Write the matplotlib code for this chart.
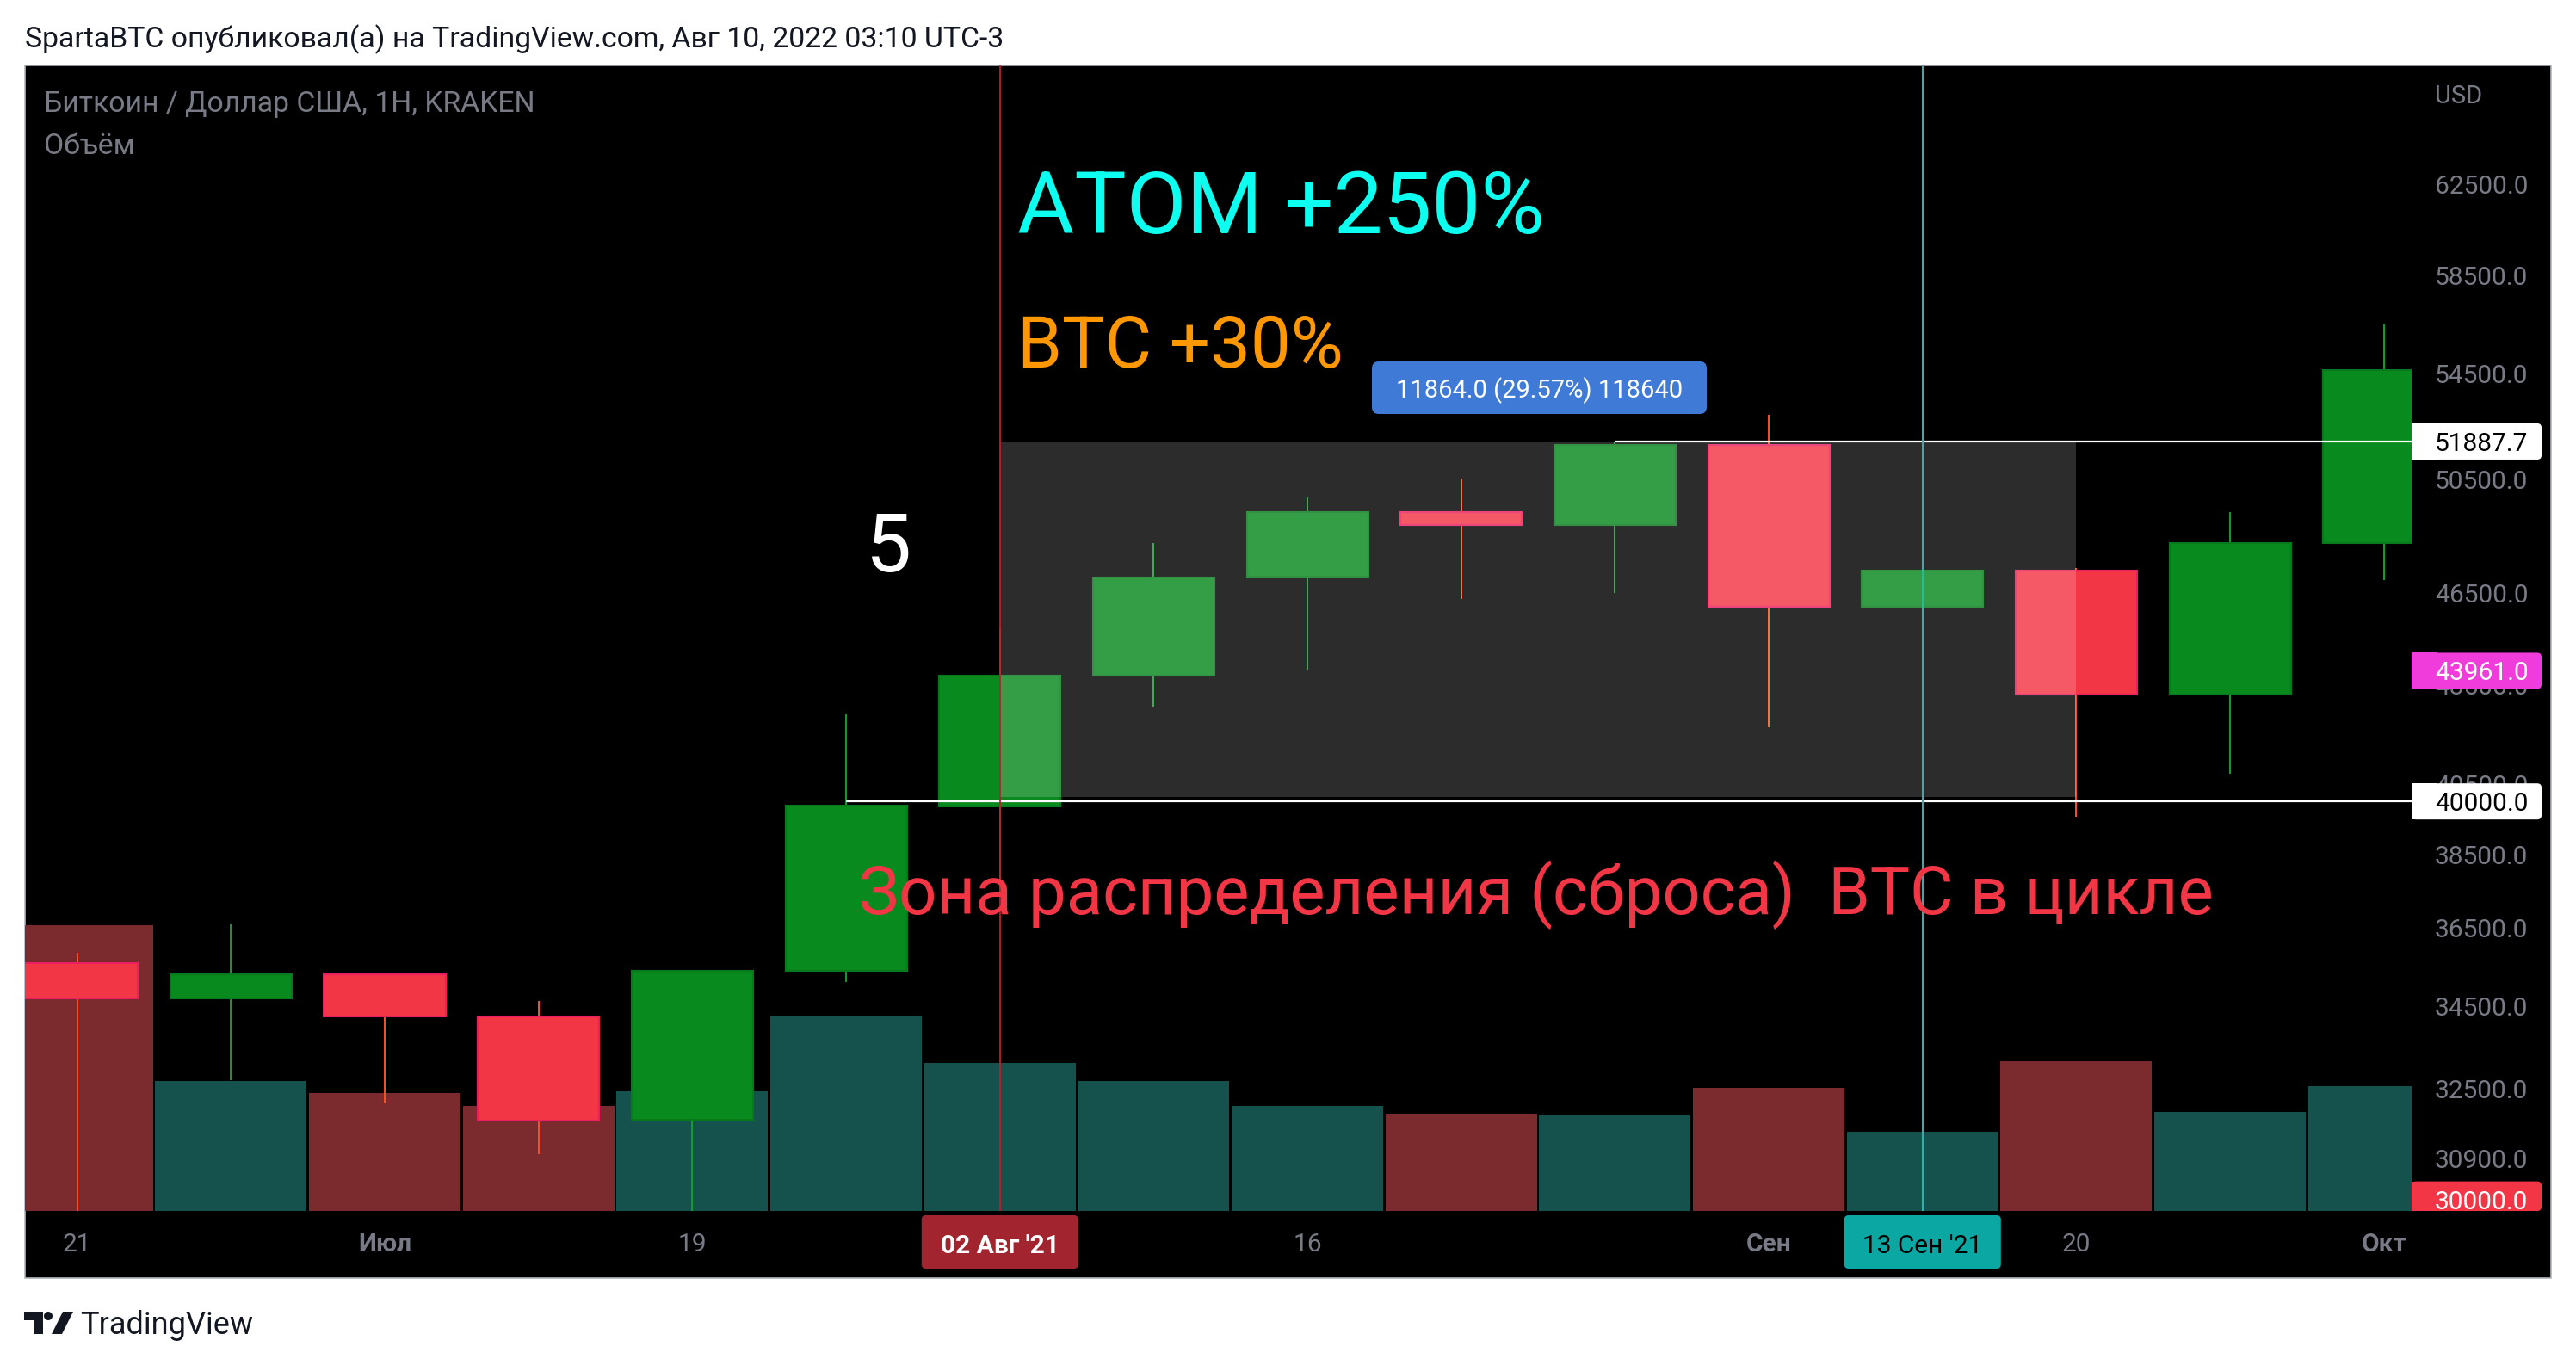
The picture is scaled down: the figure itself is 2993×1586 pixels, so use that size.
import matplotlib
matplotlib.use('Agg')
import matplotlib.pyplot as plt
from matplotlib.patches import Rectangle, FancyBboxPatch, Polygon, Circle
from matplotlib.ticker import NullLocator, NullFormatter

plt.rcParams['font.family'] = ['Roboto', 'DejaVu Sans']

# weekly candles, 21 Jun 2021 .. 04 Oct 2021
weeks = ['21 Июн', '28 Июн', '05 Июл', '12 Июл', '19 Июл', '26 Июл', '02 Авг', '09 Авг',
         '16 Авг', '23 Авг', '30 Авг', '06 Сен', '13 Сен', '20 Сен', '27 Сен', '04 Окт']
opens = [35600, 34700, 35300, 34250, 31780, 35400, 39850, 43800,
         47050, 49300, 48850, 51750, 46050, 47250, 43200, 48200]
highs = [35850, 36600, 35300, 34630, 35400, 42600, 45300, 48200,
         49850, 50500, 51887.7, 52900, 48500, 47350, 49300, 56500]
lows = [28800, 32700, 32150, 31000, 29300, 35100, 37400, 42850,
        44000, 46300, 46500, 42200, 43400, 39570, 40800, 46950]
closes = [34700, 35300, 34240, 31750, 35380, 39880, 43800, 47040,
          49300, 48850, 51750, 46050, 47250, 43200, 48200, 54650]
volumes = [17.4, 7.9, 7.2, 6.4, 7.3, 11.9, 9.0, 7.9, 6.4, 5.9, 5.8, 7.5, 4.8, 9.1, 6.0, 7.6]

price_ticks = [62500, 58500, 54500, 50500, 46500, 43500, 40500, 38500, 36500, 34500, 32500, 30900]
time_tick_idx = [0, 2, 4, 8, 11, 13, 15]
time_tick_labels = ['21', 'Июл', '19', '16', 'Сен', '20', 'Окт']

level_high = 51887.7   # drawn from week 10
level_low = 40000.0    # drawn from week 5
zone_start, zone_end = 6, 13
mark_red, mark_teal = 6, 12
mark_red_label = "02 Авг '21"
mark_teal_label = "13 Сен '21"
tag_magenta = 43961.0
tag_red = 30000.0
measure_label = '11864.0 (29.57%) 118640'

W, H = 2993, 1586
fig = plt.figure(figsize=(W / 100, H / 100), dpi=100)
fig.patch.set_facecolor('white')

# plot area (pixels, from top-left)
PL, PR, PT, PB = 28.6, 2802, 76.4, 1407
PANEL_R, PANEL_B = 2964, 1485

def inch(x, y):
    return (x / 100, (H - y) / 100)

# black panel
fig.add_artist(Rectangle(inch(PL, PANEL_B), (PANEL_R - PL) / 100, (PANEL_B - PT) / 100,
                         transform=fig.dpi_scale_trans, fc='black', ec='#B2B5BE', lw=1.2, zorder=-1))

rect = [PL / W, 1 - PB / H, (PR - PL) / W, (PB - PT) / H]
ax_v = fig.add_axes(rect, zorder=1)
ax = fig.add_axes(rect, zorder=2)
for a in (ax, ax_v):
    a.set_facecolor('none')
    for s in a.spines.values():
        s.set_visible(False)

xs = list(range(len(opens)))
xlim = (-0.342, 15.18)

# volume
vol_colors = ['#15524E' if c >= o else '#7B2A2D' for o, c in zip(opens, closes)]
ax_v.bar(xs, volumes, width=0.985, color=vol_colors, linewidth=0)
ax_v.set_xlim(*xlim)
ax_v.set_ylim(0, 69.7)
ax_v.set_xticks([])
ax_v.set_yticks([])

# candles
up_body, up_edge, up_wick = '#088A1E', '#077A1B', '#12A02E'
dn_body, dn_edge, dn_wick = '#F23645', '#E91E63', '#FF4F2A'
bot = [min(o, c) for o, c in zip(opens, closes)]
hgt = [abs(c - o) for o, c in zip(opens, closes)]
body_c = [up_body if c >= o else dn_body for o, c in zip(opens, closes)]
edge_c = [up_edge if c >= o else dn_edge for o, c in zip(opens, closes)]
wick_c = [up_wick if c >= o else dn_wick for o, c in zip(opens, closes)]
ax.vlines(xs, lows, highs, colors=wick_c, lw=1.4, zorder=2)
ax.bar(xs, hgt, bottom=bot, width=0.79, color=body_c, edgecolor=edge_c, linewidth=1.5, zorder=3)

ax.set_yscale('log')
ax.set_xlim(*xlim)
ax.set_ylim(29751, 68080)

# distribution zone
ax.add_patch(Rectangle((zone_start, level_low + 120), zone_end - zone_start,
                       level_high - level_low - 120, fc='white', alpha=0.175, ec='none', zorder=4))
ax.hlines(level_high, 10, xlim[1], color='white', lw=1.6, zorder=5)
ax.hlines(level_low, 5, xlim[1], color='white', lw=1.6, zorder=5)
ax.axvline(mark_red, color='#B2232F', lw=1.3, zorder=6)
ax.axvline(mark_teal, color='#17BDB0', lw=1.5, zorder=6)

# axes ticks
gray = '#787B86'
ax.yaxis.tick_right()
ax.set_yticks(price_ticks)
ax.set_yticklabels([f'{v:.1f}' for v in price_ticks])
ax.yaxis.set_minor_locator(NullLocator())
ax.yaxis.set_minor_formatter(NullFormatter())
ax.tick_params(axis='y', length=0, pad=19.4, labelsize=21.5, labelcolor=gray)
ax.set_xticks(time_tick_idx)
ax.set_xticklabels(time_tick_labels)
ax.tick_params(axis='x', length=0, pad=18, labelsize=21.5, labelcolor=gray)
for t in ax.get_xticklabels():
    if not t.get_text().isdigit():
        t.set_fontweight('bold')

def px_of(i, v):
    x, y = ax.transData.transform((i, v))
    return x, H - y

def box(x0, y0, x1, y1, color, r=0.05, z=4):
    fig.add_artist(FancyBboxPatch(inch(x0, y1), (x1 - x0) / 100, (y1 - y0) / 100,
                                  boxstyle=f'round,pad=0,rounding_size={r}',
                                  transform=fig.dpi_scale_trans, fc=color, ec='none', zorder=z))

def price_tag(value, label, bg, fg):
    _, y = px_of(0, value)
    y0, y1 = y - 21, min(y + 21, PB)
    box(PR, y0, PR + 151, y1, bg)
    fig.add_artist(Rectangle(inch(PR, y1), 0.3, (y1 - y0) / 100, transform=fig.dpi_scale_trans,
                             fc=bg, ec='none', zorder=4))
    fig.text((PR + 27) / W, 1 - y / H, label, color=fg, fontsize=21.5, va='center_baseline',
             ha='left', zorder=5)

price_tag(level_high, f'{level_high:.1f}', 'white', 'black')
price_tag(level_low, f'{level_low:.1f}', 'white', 'black')
price_tag(tag_magenta, f'{tag_magenta:.1f}', '#F03CDB', 'white')
price_tag(tag_red, f'{tag_red:.1f}', '#F23645', 'white')

def time_tag(i, label, bg, fg):
    x, _ = px_of(i, 40000)
    box(x - 91, PB + 5, x + 91, PB + 67, bg)
    fig.text(x / W, 1 - (PB + 38) / H, label, color=fg, fontsize=21.5, va='center_baseline',
             ha='center', zorder=5, fontweight='bold' if fg == 'white' else 'normal')

time_tag(mark_red, mark_red_label, '#A1242E', 'white')
time_tag(mark_teal, mark_teal_label, '#0BA8A3', 'black')

# measurement label
box(1594, 420, 1983, 481, '#3F7BD6', r=0.08)
fig.text(1789 / W, 1 - 450 / H, measure_label, color='white', fontsize=21, ha='center',
         va='center_baseline', zorder=5)

# annotations
fig.text(1182 / W, 1 - 271 / H, 'ATOM +250%', color='#0DFFEF', fontsize=73, va='baseline', zorder=5)
fig.text(1182 / W, 1 - 427 / H, 'BTC +30%', color='#FF9800', fontsize=60, va='baseline', zorder=5)
fig.text(1006 / W, 1 - 664 / H, '5', color='white', fontsize=68, va='baseline', zorder=5)
fig.text(998 / W, 1 - 1062 / H, 'Зона распределения (сброса)  BTC в цикле', color='#F23645',
         fontsize=56, va='baseline', zorder=5)

# header / legend texts
fig.text(29 / W, 1 - 55 / H, 'SpartaBTC опубликовал(а) на TradingView.com, Авг 10, 2022 03:10 UTC-3',
         color='#131722', fontsize=24.3, va='baseline')
fig.text(51.5 / W, 1 - 130 / H, 'Биткоин / Доллар США, 1H, KRAKEN', color=gray, fontsize=24.3,
         va='baseline', zorder=5)
fig.text(51.5 / W, 1 - 179 / H, 'Объём', color=gray, fontsize=24.3, va='baseline', zorder=5)
fig.text(2829 / W, 1 - 120 / H, 'USD', color=gray, fontsize=21, va='baseline', zorder=5)

# TradingView logo
dark = '#131722'
t = fig.dpi_scale_trans
fig.add_artist(Polygon([inch(28, 1524), inch(50, 1524), inch(50, 1550), inch(40, 1550),
                        inch(40, 1534), inch(28, 1534)], closed=True, fc=dark, ec='none', transform=t))
fig.add_artist(Circle(inch(56, 1529), 0.05, fc=dark, ec='none', transform=t))
fig.add_artist(Polygon([inch(73, 1524), inch(85, 1524), inch(72, 1550), inch(60, 1550)],
                       closed=True, fc=dark, ec='none', transform=t))
fig.text(93 / W, 1 - 1550 / H, 'TradingView', color=dark, fontsize=26, va='baseline')

fig.savefig('out.png', dpi=100)
